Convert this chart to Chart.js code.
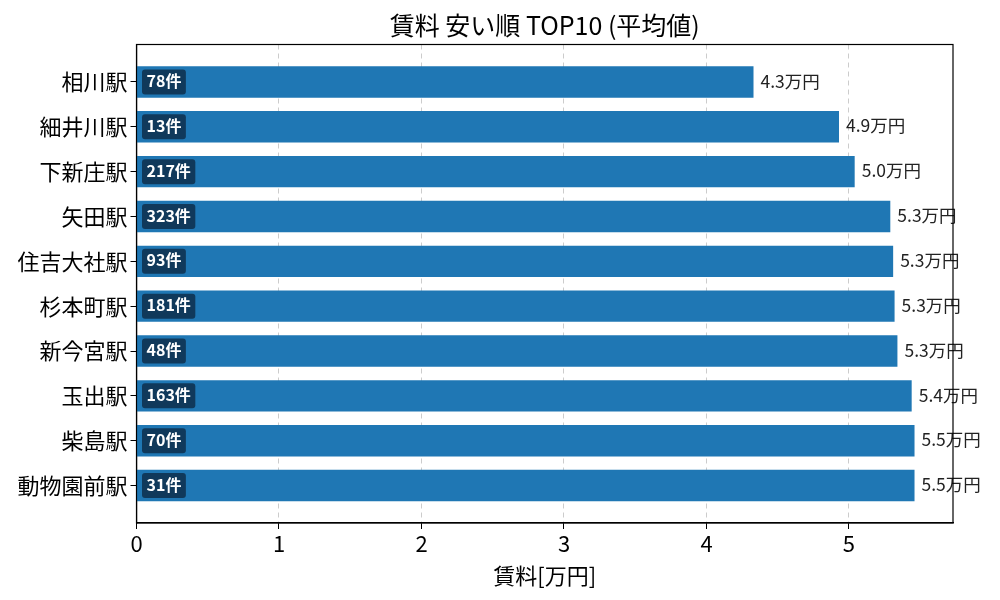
<!DOCTYPE html>
<html>
<head>
<meta charset="utf-8">
<script src="https://cdn.jsdelivr.net/npm/chart.js@4"></script>
<style>
  body { margin: 0; background: #fff; }
  #wrap { width: 1000px; height: 600px; }
</style>
</head>
<body>
<div id="wrap"><canvas id="chart"></canvas></div>
<script>
// 駅名・平均賃料・件数
const stations = ['相川駅', '細井川駅', '下新庄駅', '矢田駅', '住吉大社駅', '杉本町駅', '新今宮駅', '玉出駅', '柴島駅', '動物園前駅'];
const rents = [4.33, 4.93, 5.04, 5.29, 5.31, 5.32, 5.34, 5.44, 5.46, 5.46];
const counts = [78, 13, 217, 323, 93, 181, 48, 163, 70, 31];
const xTicks = [0, 1, 2, 3, 4, 5];
const titleText = '賃料 安い順 TOP10 (平均値)';

const FONT = '"Noto Sans CJK JP", "Noto Sans", sans-serif';

// 件数ラベル・値ラベル・枠線・タイトル
const labelPlugin = {
    id: 'labels',
    afterDatasetsDraw(chart) {
        const ctx = chart.ctx;
        const meta = chart.getDatasetMeta(0);
        ctx.save();
        meta.data.forEach((bar, i) => {
            // 値ラベル
            ctx.font = '17.5px ' + FONT;
            ctx.fillStyle = '#222';
            ctx.textAlign = 'left';
            ctx.textBaseline = 'middle';
            ctx.fillText(rents[i].toFixed(1) + '万円', bar.x + 7, bar.y - 1);

            // 件数ラベル
            const txt = counts[i] + '件';
            ctx.font = 'bold 16px ' + FONT;
            const w = ctx.measureText(txt).width + 9;
            const bx = bar.base + 5, by = bar.y - 12.5;
            ctx.fillStyle = 'rgba(15, 52, 84, 0.92)';
            ctx.beginPath();
            ctx.roundRect(bx, by, w, 25, 3);
            ctx.fill();
            ctx.fillStyle = '#fff';
            ctx.fillText(txt, bx + 4.5, bar.y - 1);
        });
        ctx.restore();
    },
    afterDraw(chart) {
        const a = chart.chartArea;
        const ctx = chart.ctx;
        ctx.save();
        ctx.strokeStyle = '#000';
        ctx.lineWidth = 1.2;
        ctx.strokeRect(a.left, a.top, a.right - a.left, a.bottom - a.top);

        // タイトル（プロット領域の中央）
        ctx.font = '25px ' + FONT;
        ctx.fillStyle = '#000';
        ctx.textAlign = 'center';
        ctx.textBaseline = 'middle';
        ctx.fillText(titleText, (a.left + a.right) / 2, 25);
        ctx.restore();
    }
};

new Chart(document.getElementById('chart'), {
    type: 'bar',
    data: {
        datasets: [{
            data: rents.map((v, i) => ({ x: v, y: i })),
            backgroundColor: '#1f77b4',
            barPercentage: 0.7,
            categoryPercentage: 1.0
        }]
    },
    options: {
        indexAxis: 'y',
        responsive: true,
        maintainAspectRatio: false,
        animation: false,
        layout: { padding: { top: 44.5, right: 47, bottom: 0, left: 0 } },
        plugins: {
            legend: { display: false },
            tooltip: { enabled: false },
            title: { display: false }
        },
        scales: {
            x: {
                type: 'linear',
                min: 0,
                max: 5.73,
                afterBuildTicks: s => { s.ticks = xTicks.map(v => ({ value: v })); },
                afterFit: s => { s.height = 77; },
                ticks: { color: '#000', font: { family: FONT, size: 22 }, padding: 1 },
                grid: { color: '#cccccc', tickColor: '#000', tickLength: 6, tickBorderDash: [] },
                border: { color: '#000', width: 1.2, dash: [5, 4] },
                title: { display: true, text: '賃料[万円]', color: '#000', font: { family: FONT, size: 22 }, padding: { top: 0, bottom: 11 } }
            },
            y: {
                type: 'linear',
                reverse: true,
                offset: false,
                min: -0.835,
                max: 9.835,
                afterBuildTicks: s => { s.ticks = stations.map((n, i) => ({ value: i })); },
                afterFit: s => { s.width = 136.5; },
                ticks: {
                    color: '#000',
                    font: { family: FONT, size: 22 },
                    padding: 3,
                    callback: v => stations[v]
                },
                grid: { offset: false, drawOnChartArea: false, tickColor: '#000', tickLength: 6 },
                border: { color: '#000', width: 1.2 }
            }
        }
    },
    plugins: [labelPlugin]
});
</script>
</body>
</html>
